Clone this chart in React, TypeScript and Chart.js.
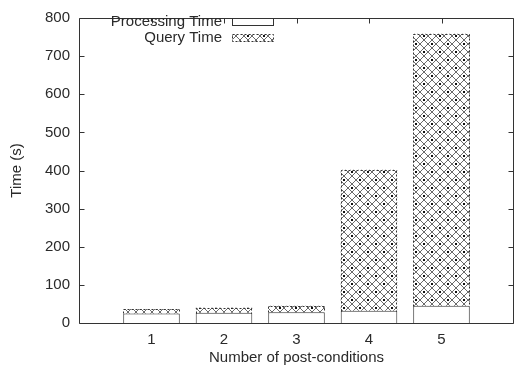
import React, { useEffect, useRef } from "react";
import { Chart, registerables } from "chart.js";

Chart.register(...registerables);

const categories = ["", "1", "2", "3", "4", "5", ""];
const processingTime = [null, 25, 27, 28, 32, 45, null];
const queryTime = [null, 12, 13, 17, 370, 714, null];
const seriesNames = ["Processing Time", "Query Time"];
const yTicks = [0, 100, 200, 300, 400, 500, 600, 700, 800];

const FONT = "'Liberation Sans', Arial, Helvetica, sans-serif";
const INK = "#2a2a2a";
const FS = 15;

function makePattern(): CanvasPattern | string {
  const N = 16;
  const c = document.createElement("canvas");
  c.width = N;
  c.height = N;
  const g = c.getContext("2d");
  if (!g) return "#999";
  g.fillStyle = "#ffffff";
  g.fillRect(0, 0, N, N);
  g.fillStyle = "#6a6a6a";
  for (let y = 0; y < N; y++) {
    for (let x = 0; x < N; x++) {
      if (((x - y) % 8 + 8) % 8 === 0 || (x + y) % 8 === 7) {
        g.fillRect(x, y, 1, 1);
      }
    }
  }
  g.fillStyle = "#111";
  g.fillRect(7, 3, 2, 1);
  g.fillRect(7, 4, 2, 1);
  g.fillRect(15, 11, 1, 2);
  g.fillRect(0, 11, 1, 2);
  const ctx = document.createElement("canvas").getContext("2d");
  return ctx ? (ctx.createPattern(c, "repeat") as CanvasPattern) : "#999";
}

export default function App() {
  const ref = useRef<HTMLCanvasElement | null>(null);

  useEffect(() => {
    if (!ref.current) return;
    const pattern = makePattern();

    const framePlugin = {
      id: "frame",
      afterDatasetsDraw(chart: any) {
        const ctx = chart.ctx;
        const { left, right, top, bottom } = chart.chartArea;
        const xs = chart.scales.x;
        const ys = chart.scales.y;
        ctx.save();
        const meta = chart.getDatasetMeta(1);
        ctx.strokeStyle = "#333";
        ctx.lineWidth = 1;
        ctx.setLineDash([2, 2]);
        meta.data.forEach((el: any, i: number) => {
          if (queryTime[i] == null) return;
          const w = el.width;
          const x0 = Math.round(el.x - w / 2) + 0.5;
          const x1 = Math.round(el.x + w / 2) - 0.5;
          const y0 = Math.round(el.y) + 0.5;
          const y1 = Math.round(el.base) + 0.5;
          ctx.beginPath();
          ctx.moveTo(x0, y1);
          ctx.lineTo(x0, y0);
          ctx.lineTo(x1, y0);
          ctx.lineTo(x1, y1);
          ctx.stroke();
        });
        ctx.setLineDash([]);
        ctx.strokeStyle = "#333";
        ctx.lineWidth = 1;
        const L = Math.round(left) + 0.5;
        const R = Math.round(right) - 0.5;
        const T = Math.round(top) + 0.5;
        const B = Math.round(bottom) + 0.5;
        ctx.beginPath();
        ctx.moveTo(L, T);
        ctx.lineTo(R, T);
        ctx.lineTo(R, B);
        ctx.lineTo(L, B);
        ctx.closePath();
        ctx.stroke();
        ctx.beginPath();
        yTicks.forEach((v) => {
          const y = Math.round(ys.getPixelForValue(v)) + 0.5;
          ctx.moveTo(L, y);
          ctx.lineTo(L + 5, y);
          ctx.moveTo(R, y);
          ctx.lineTo(R - 5, y);
        });
        categories.forEach((c, i) => {
          if (!c) return;
          const x = Math.round(xs.getPixelForValue(i)) + 0.5;
          ctx.moveTo(x, T);
          ctx.lineTo(x, T + 5);
        });
        ctx.stroke();
        ctx.font = `${FS}px ${FONT}`;
        ctx.fillStyle = INK;
        ctx.textAlign = "right";
        ctx.textBaseline = "middle";
        const rows = [22, 38];
        seriesNames.forEach((name, i) => {
          ctx.fillText(name, 222, rows[i]);
          const bx = 232.5, by = rows[i] - 3.5, bw = 41, bh = 7;
          if (i === 0) {
            ctx.fillStyle = "#fff";
            ctx.fillRect(bx, by, bw, bh);
            ctx.strokeStyle = "#333";
            ctx.strokeRect(bx, by, bw, bh);
          } else {
            ctx.fillStyle = pattern as any;
            ctx.fillRect(bx, by, bw, bh);
            ctx.setLineDash([2, 2]);
            ctx.strokeStyle = "#333";
            ctx.strokeRect(bx, by, bw, bh);
            ctx.setLineDash([]);
          }
          ctx.fillStyle = INK;
        });
        ctx.restore();
      },
    };

    const chart = new Chart(ref.current, {
      type: "bar",
      data: {
        labels: categories,
        datasets: [
          {
            label: seriesNames[0],
            data: processingTime as any,
            backgroundColor: "#ffffff",
            borderColor: "#333",
            borderWidth: 1,
            barPercentage: 0.78,
            categoryPercentage: 1,
          },
          {
            label: seriesNames[1],
            data: queryTime as any,
            backgroundColor: pattern as any,
            borderWidth: 0,
            barPercentage: 0.78,
            categoryPercentage: 1,
          },
        ],
      },
      options: {
        responsive: false,
        animation: false,
        devicePixelRatio: 1,
        layout: { padding: { top: 10, right: 3, left: 0, bottom: 0 } },
        plugins: { legend: { display: false }, tooltip: { enabled: false } },
        scales: {
          x: {
            type: "category",
            stacked: true,
            offset: false,
            grid: { display: false, drawTicks: false },
            border: { display: false },
            ticks: {
              padding: 8,
              color: INK,
              font: { family: FONT, size: FS },
              maxRotation: 0,
              autoSkip: false,
            },
            title: {
              display: true,
              text: "Number of post-conditions",
              color: INK,
              font: { family: FONT, size: FS },
              padding: { top: 0, bottom: 8 },
            },
            afterFit: (s: any) => {
              s.height = 52;
            },
          },
          y: {
            stacked: true,
            min: 0,
            max: 800,
            grid: { display: false, drawTicks: false },
            border: { display: false },
            ticks: {
              stepSize: 100,
              padding: 9,
              color: INK,
              font: { family: FONT, size: FS },
            },
            title: {
              display: true,
              text: "Time (s)",
              color: INK,
              font: { family: FONT, size: FS },
              padding: { top: 8, bottom: 0 },
            },
            afterFit: (s: any) => {
              s.width = 79;
            },
          },
        },
      },
      plugins: [framePlugin],
    });
    return () => chart.destroy();
  }, []);

  return (
    <div
      style={{
        position: "fixed",
        left: 0,
        top: 0,
        width: 517,
        height: 375,
        overflow: "hidden",
        background: "#fff",
      }}
    >
      <canvas ref={ref} width={522} height={375} style={{ display: "block" }} />
    </div>
  );
}
